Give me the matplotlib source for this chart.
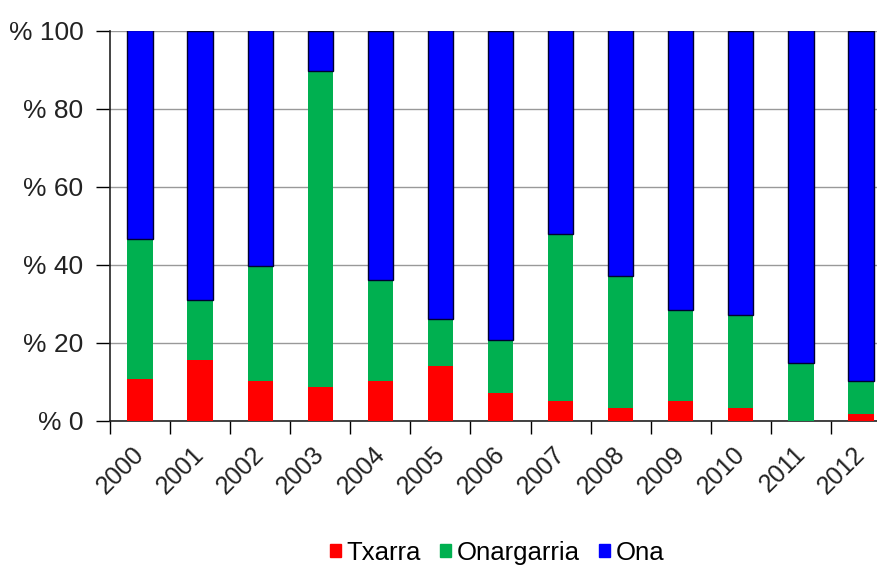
import matplotlib
matplotlib.use("Agg")
import matplotlib.pyplot as plt
import matplotlib.transforms as mtransforms
import numpy as np

years = ["2000", "2001", "2002", "2003", "2004", "2005", "2006",
         "2007", "2008", "2009", "2010", "2011", "2012"]
txarra = [10.8, 15.6, 10.3, 8.6, 10.3, 14.0, 7.1, 5.0, 3.3, 5.0, 3.3, 0.0, 1.7]
green_top = [46.7, 30.9, 39.6, 89.7, 36.2, 26.1, 20.7, 47.8, 37.2, 28.5, 27.2, 14.9, 10.3]
onargarria = [g - t for g, t in zip(green_top, txarra)]
ona = [100 - g for g in green_top]
series_names = ["Txarra", "Onargarria", "Ona"]
ytick_vals = [0, 20, 40, 60, 80, 100]
ytick_labels = ["% 0", "% 20", "% 40", "% 60", "% 80", "% 100"]

plt.rcParams['font.family'] = ['Liberation Sans', 'DejaVu Sans']

fig = plt.figure(figsize=(8.77, 5.65), dpi=100)
ax = fig.add_axes([110/877, 1 - 421/565, 781/877, 390.5/565])

x = np.arange(len(years))
w = 0.42
ax.bar(x, txarra, w, color="#FF0000", linewidth=0, label=series_names[0], zorder=3)
ax.bar(x, onargarria, w, bottom=txarra, color="#00B050", linewidth=0,
       label=series_names[1], zorder=3)
ax.bar(x, ona, w, bottom=green_top, color="#0000FF", edgecolor="#000033",
       linewidth=1.0, label=series_names[2], zorder=3)

ax.set_xlim(-0.5, len(years) - 0.5)
ax.set_ylim(0, 100)
ax.set_yticks(ytick_vals)
ax.set_yticklabels(ytick_labels, fontsize=19, color="#222222")
ax.tick_params(axis='y', length=10, width=1, pad=9, direction='out')
ax.yaxis.grid(True, color="#999999", linewidth=1, zorder=0)
ax.set_axisbelow(True)

ax.set_xticks(x)
ax.set_xticklabels(years, fontsize=18, rotation=45, ha='right', va='top',
                   rotation_mode='default', color="#222222")
ax.tick_params(axis='x', which='major', length=0, pad=15)
offset = mtransforms.ScaledTranslation(9/100, 0, fig.dpi_scale_trans)
for lab in ax.get_xticklabels():
    lab.set_transform(lab.get_transform() + offset)
ax.set_xticks(np.arange(-0.5, len(years) + 0.5, 1), minor=True)
ax.tick_params(axis='x', which='minor', length=9, width=1, direction='out')

for s in ['top', 'right']:
    ax.spines[s].set_visible(False)
for s in ['left', 'bottom']:
    ax.spines[s].set_color("#222222")
    ax.spines[s].set_linewidth(1.2)

handles = [plt.Rectangle((0, 0), 1, 1, color=c) for c in ["#FF0000", "#00B050", "#0000FF"]]
fig.legend(handles, series_names, loc='center', bbox_to_anchor=(497/877, 1 - 553/565),
           ncol=3, frameon=False, fontsize=18.5, handlelength=0.42, handleheight=0.42,
           handletextpad=0.22, columnspacing=0.75)

fig.savefig("out.png", dpi=100)
